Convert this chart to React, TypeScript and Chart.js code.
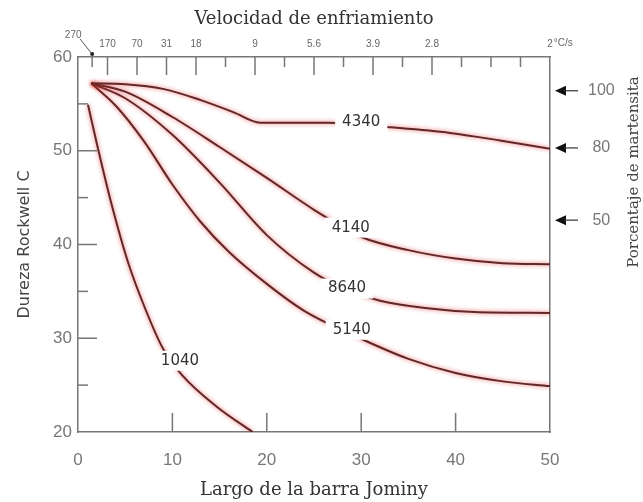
import React, { useEffect, useRef } from 'react';
import { Chart, registerables } from 'chart.js';

Chart.register(...registerables);

// Jominy curves (distance in mm, hardness HRC)
const steelNames = ['4340', '4140', '8640', '5140', '1040'];
const x4340 = [1.4, 5, 9, 13, 16.5, 19.3, 26.5, 33.1, 39.4, 44.7, 50];
const y4340 = [57.2, 57.1, 56.6, 55.4, 54.1, 53.0, 53.0, 52.5, 51.9, 51.1, 50.2];
const x4140 = [1.4, 5, 10, 15, 20, 25, 28, 30, 35, 40, 45, 50];
const y4140 = [57.2, 56.3, 53.6, 50.4, 47.1, 43.7, 41.9, 40.8, 39.4, 38.5, 38.0, 37.9];
const x8640 = [1.4, 5, 10, 15, 20, 25, 28, 32, 37, 42, 50];
const y8640 = [57.2, 55.6, 51.7, 46.6, 41.0, 37.0, 35.4, 34.0, 33.2, 32.8, 32.7];
const x5140 = [1.4, 4, 7, 10, 13, 16, 20, 24, 29, 35, 40, 45, 50];
const y5140 = [57.2, 54.8, 51.0, 46.4, 42.4, 39.2, 35.8, 32.9, 30.4, 27.8, 26.3, 25.4, 24.9];
const x1040 = [1.06, 2.1, 3.5, 5.3, 7.1, 9.0, 11.0, 14.7, 18.5];
const y1040 = [54.9, 50.3, 44.5, 38.1, 33.2, 28.9, 26.1, 22.7, 20.0];

// curve label anchors (data coordinates)
const labelX = [30.0, 28.9, 28.5, 29.0, 10.8];
const labelY = [53.1, 41.8, 35.3, 30.9, 27.6];

// axes
const bottomMajorTicks = [10, 20, 30, 40];
const leftMajorTicks = [30, 40, 50];
const leftMinorTicks = [25, 35, 45, 55];
const topTickPos = [1.5, 3.125, 6.25, 9.375, 12.5, 15.625, 18.75, 21.875, 25, 28.125, 31.25, 34.375, 37.5, 40.625, 43.75, 46.875, 50];
const topTickLabels = ['270', '170', '70', '31', '18', '', '9', '', '5.6', '', '3.9', '', '2.8', '', '', '', '2'];
const martPos = [56.4, 50.3, 42.6];
const martLabels = ['100', '80', '50'];

const seriesX = [x4340, x4140, x8640, x5140, x1040];
const seriesY = [y4340, y4140, y8640, y5140, y1040];

const decorPlugin = {
  id: 'decor',
  beforeDatasetsDraw(chart: any) {
    const ctx = chart.ctx;
    ctx.save();
    ctx.shadowColor = 'rgba(225,45,45,0.75)';
    ctx.shadowBlur = 4;
  },
  afterDatasetsDraw(chart: any) {
    const ctx = chart.ctx;
    ctx.restore();
    const sx = chart.scales.x;
    const sy = chart.scales.y;
    ctx.save();
    ctx.font = '15px "DejaVu Sans"';
    ctx.textAlign = 'center';
    ctx.textBaseline = 'middle';
    steelNames.forEach((name, i) => {
      const cx = sx.getPixelForValue(labelX[i]);
      const cy = sy.getPixelForValue(labelY[i]);
      const w = ctx.measureText(name).width;
      ctx.fillStyle = '#ffffff';
      ctx.fillRect(cx - w / 2 - 7, cy - 10, w + 14, 20);
      ctx.fillStyle = '#333333';
      ctx.fillText(name, cx, cy);
    });
    ctx.restore();
  },
  afterDraw(chart: any) {
    const ctx = chart.ctx;
    const { left, right, top, bottom } = chart.chartArea;
    const sx = chart.scales.x;
    const sx2 = chart.scales.x2;
    const sy = chart.scales.y;
    const sy2 = chart.scales.y2;
    ctx.save();
    ctx.strokeStyle = '#777777';
    ctx.lineWidth = 1.5;
    bottomMajorTicks.forEach((v) => {
      const px = sx.getPixelForValue(v);
      ctx.beginPath();
      ctx.moveTo(px, bottom);
      ctx.lineTo(px, bottom - 19);
      ctx.stroke();
    });
    leftMajorTicks.forEach((v) => {
      const py = sy.getPixelForValue(v);
      ctx.beginPath();
      ctx.moveTo(left, py);
      ctx.lineTo(left + 19, py);
      ctx.stroke();
    });
    leftMinorTicks.forEach((v) => {
      const py = sy.getPixelForValue(v);
      ctx.beginPath();
      ctx.moveTo(left, py);
      ctx.lineTo(left + 10, py);
      ctx.stroke();
    });
    topTickPos.forEach((v, i) => {
      if (v >= 50) return;
      const px = sx2.getPixelForValue(v);
      const long = topTickLabels[i] !== '' && i !== 0;
      ctx.beginPath();
      ctx.moveTo(px, top);
      ctx.lineTo(px, top + (long ? 18 : 10));
      ctx.stroke();
    });
    // "270" label with pointer
    const p270 = sx2.getPixelForValue(topTickPos[0]);
    ctx.fillStyle = '#666666';
    ctx.font = '10px "Liberation Sans"';
    ctx.textAlign = 'center';
    ctx.textBaseline = 'middle';
    ctx.fillText(topTickLabels[0], p270 - 19, top - 22);
    ctx.strokeStyle = '#555555';
    ctx.lineWidth = 1;
    ctx.beginPath();
    ctx.moveTo(p270 - 12, top - 18);
    ctx.lineTo(p270 - 1, top - 4);
    ctx.stroke();
    ctx.fillStyle = '#222222';
    ctx.beginPath();
    ctx.arc(p270, top - 3, 2, 0, Math.PI * 2);
    ctx.fill();
    // unit after the last top label
    const p50 = sx2.getPixelForValue(50);
    ctx.fillStyle = '#666666';
    ctx.textAlign = 'left';
    const w2 = ctx.measureText('2').width;
    ctx.fillText('°C/s', p50 + w2 / 2 + 1, top - 14);
    // martensite arrows
    martPos.forEach((v) => {
      const py = sy2.getPixelForValue(v);
      ctx.fillStyle = '#111111';
      ctx.beginPath();
      ctx.moveTo(right + 5, py);
      ctx.lineTo(right + 16, py - 5);
      ctx.lineTo(right + 16, py + 5);
      ctx.closePath();
      ctx.fill();
      ctx.strokeStyle = '#333333';
      ctx.lineWidth = 1.2;
      ctx.beginPath();
      ctx.moveTo(right + 14, py);
      ctx.lineTo(right + 28, py);
      ctx.stroke();
    });
    // right title
    ctx.save();
    ctx.translate(634, 172);
    ctx.rotate(-Math.PI / 2);
    ctx.fillStyle = '#444444';
    ctx.font = '15px "DejaVu Serif"';
    ctx.textAlign = 'center';
    ctx.textBaseline = 'middle';
    ctx.fillText('Porcentaje de martensita', 0, 0);
    ctx.restore();
    ctx.restore();
  },
};

export default function App() {
  const canvasRef = useRef<HTMLCanvasElement | null>(null);

  useEffect(() => {
    document.body.style.margin = '0';
    const canvas = canvasRef.current;
    if (!canvas) return;
    Chart.defaults.font.family = '"Liberation Sans"';
    const borderOpts = { display: true, color: '#777777', width: 1.5 };
    const chart = new Chart(canvas, {
      type: 'line',
      data: {
        datasets: steelNames.map((name, i) => ({
          label: name,
          data: seriesX[i].map((x, j) => ({ x, y: seriesY[i][j] })),
          borderColor: '#622828',
          borderWidth: 2,
          pointRadius: 0,
          fill: false,
          cubicInterpolationMode: 'monotone' as const,
          xAxisID: 'x',
          yAxisID: 'y',
        })),
      },
      options: {
        animation: false,
        responsive: false,
        maintainAspectRatio: false,
        devicePixelRatio: 1,
        layout: { padding: 0 },
        plugins: { legend: { display: false }, tooltip: { enabled: false } },
        scales: {
          x: {
            type: 'linear',
            position: 'bottom',
            min: 0,
            max: 50,
            grid: { display: false },
            border: borderOpts,
            ticks: { stepSize: 10, padding: 10, color: '#777777', maxRotation: 0, font: { size: 17 } },
            title: {
              display: true,
              text: 'Largo de la barra Jominy',
              color: '#333333',
              font: { family: '"DejaVu Serif"', size: 18 },
              padding: { top: 0, bottom: 1 },
            },
            afterFit: (s: any) => { s.height = 70; },
          },
          x2: {
            type: 'linear',
            position: 'top',
            min: 0,
            max: 50,
            grid: { display: false },
            border: borderOpts,
            afterBuildTicks: (s: any) => { s.ticks = topTickPos.map((v) => ({ value: v })); },
            ticks: {
              autoSkip: false,
              maxRotation: 0,
              padding: -1,
              color: '#666666',
              font: { size: 10 },
              callback: (_v: any, i: number) => (i === 0 ? '' : topTickLabels[i]),
            },
            title: {
              display: true,
              text: 'Velocidad de enfriamiento',
              color: '#333333',
              font: { family: '"DejaVu Serif"', size: 18 },
              padding: { top: 9, bottom: 0 },
            },
            afterFit: (s: any) => { s.height = 57; },
          },
          y: {
            type: 'linear',
            position: 'left',
            min: 20,
            max: 60,
            grid: { display: false },
            border: borderOpts,
            ticks: { stepSize: 10, padding: -2, color: '#777777', font: { size: 17 } },
            title: {
              display: true,
              text: 'Dureza Rockwell C',
              color: '#444444',
              font: { family: '"DejaVu Sans"', size: 16 },
              padding: { top: 15, bottom: 0 },
            },
            afterFit: (s: any) => { s.width = 78; },
          },
          y2: {
            type: 'linear',
            position: 'right',
            min: 20,
            max: 60,
            grid: { display: false },
            border: borderOpts,
            afterBuildTicks: (s: any) => { s.ticks = martPos.map((v) => ({ value: v })); },
            ticks: {
              padding: 30,
              crossAlign: 'center',
              color: '#777777',
              font: { size: 16 },
              callback: (_v: any, i: number) => martLabels[i],
            },
            afterFit: (s: any) => { s.width = 93; },
          },
        },
      },
      plugins: [decorPlugin],
    } as any);
    return () => chart.destroy();
  }, []);

  return (
    <div style={{ width: 643, height: 502, background: '#ffffff' }}>
      <canvas ref={canvasRef} width={643} height={502} />
    </div>
  );
}
